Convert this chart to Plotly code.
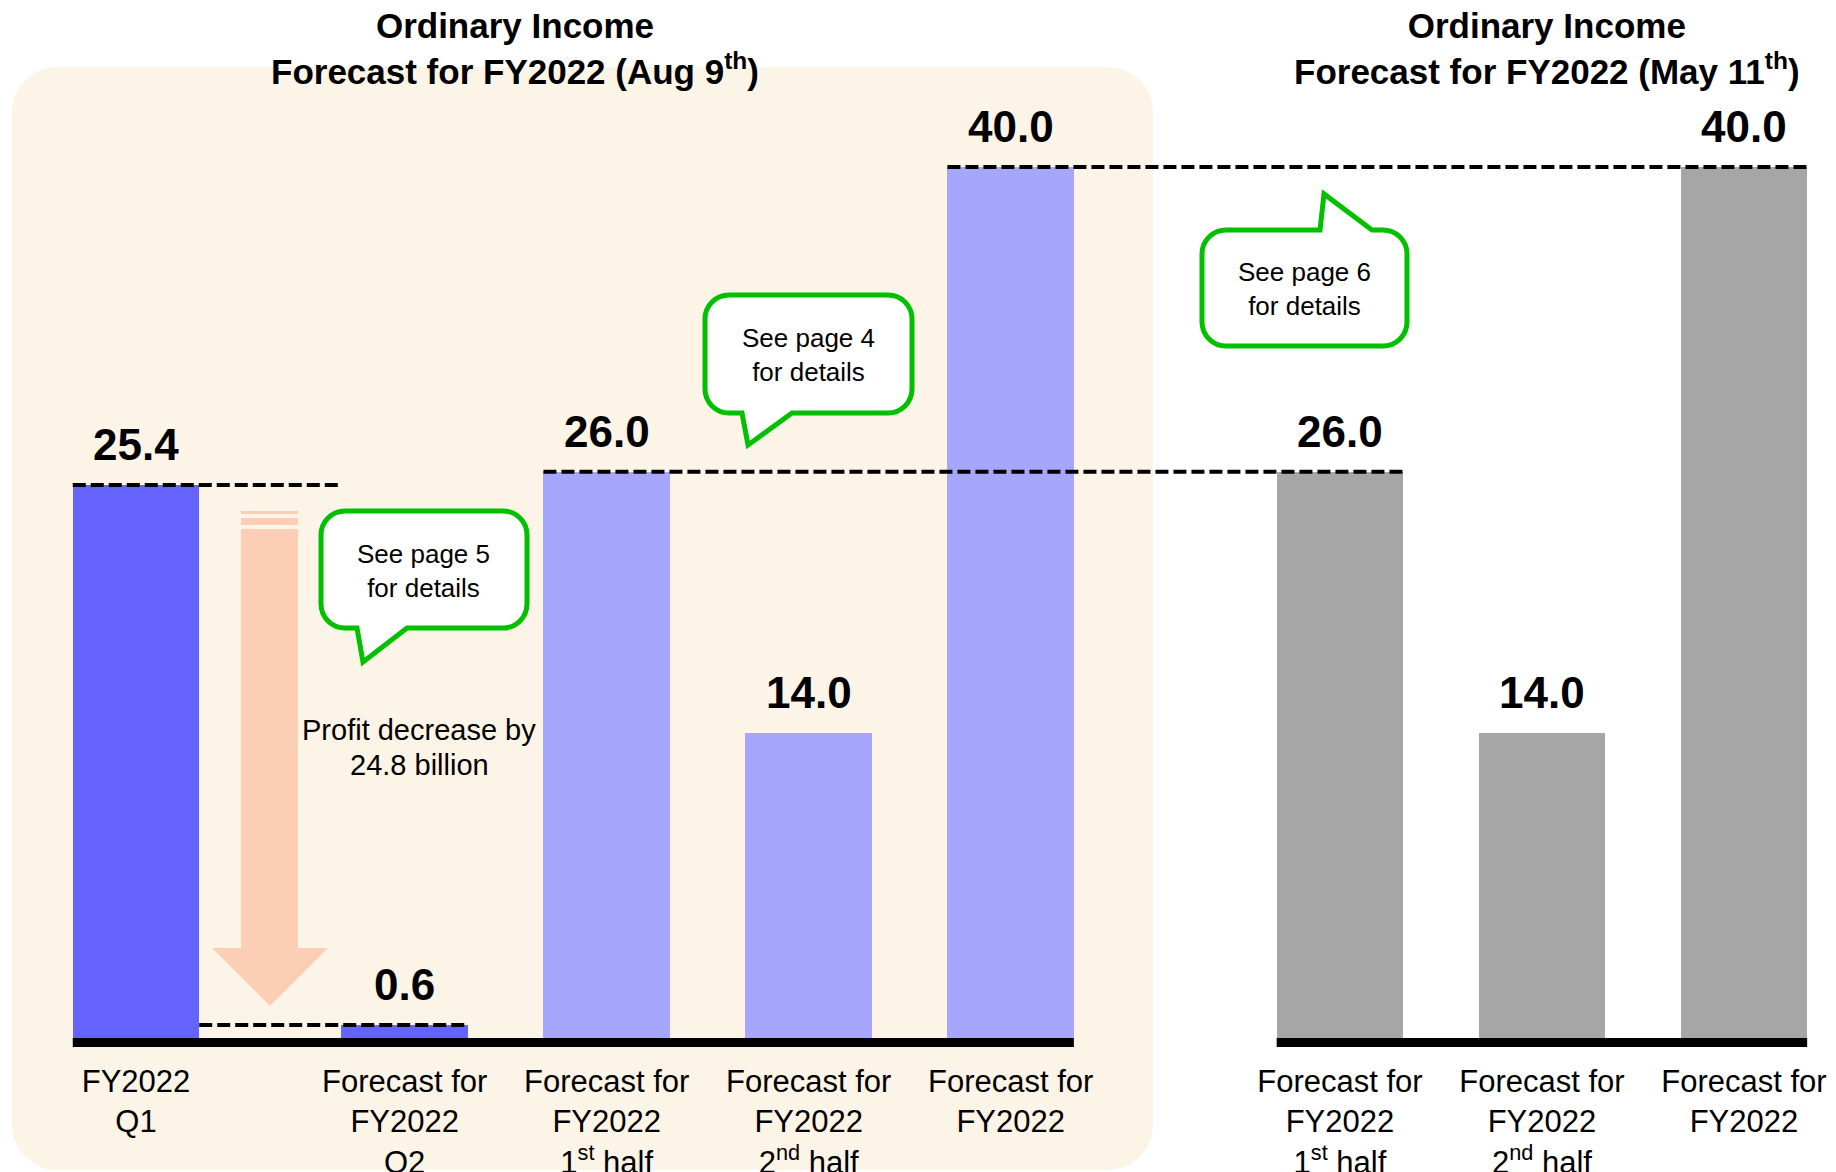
import plotly.graph_objects as go

# ---------------- data ----------------
aug_labels = [
    "FY2022<br>Q1",
    "Forecast for<br>FY2022<br>Q2",
    "Forecast for<br>FY2022<br>1<sup>st</sup> half",
    "Forecast for<br>FY2022<br>2<sup>nd</sup> half",
    "Forecast for<br>FY2022",
]
aug_values = [25.4, 0.6, 26.0, 14.0, 40.0]

may_labels = [
    "Forecast for<br>FY2022<br>1<sup>st</sup> half",
    "Forecast for<br>FY2022<br>2<sup>nd</sup> half",
    "Forecast for<br>FY2022",
]
may_values = [26.0, 14.0, 40.0]

title_aug = "Ordinary Income<br>Forecast for FY2022 (Aug 9<sup>th</sup>)"
title_may = "Ordinary Income<br>Forecast for FY2022 (May 11<sup>th</sup>)"
decrease_text = ["Profit decrease by", "24.8 billion"]
callout_texts = ["See page 4<br>for details", "See page 5<br>for details", "See page 6<br>for details"]

# ---------------- layout constants ----------------
W, H = 1836, 1172
PLOT_BOTTOM = 1047          # px, bottom of the plot area
ZERO_PX = 1038              # px, where value 0 sits
PXU = (1038 - 167) / 40.0   # px per unit
SLOT = 202.0                # px per slot
X0PX = 136.0                # px of slot 0

aug_pos = [0, 1.33, 2.33, 3.33, 4.33]
may_pos = [5.96, 6.96, 7.96]
BAR_W = 0.626

FONT = "Liberation Sans, Arial, sans-serif"
C_DARK = "#6464FC"
C_LIGHT = "#A6A6FD"
C_GRAY = "#A6A6A6"
C_PANEL = "#FDF4E8"
C_ARROW = "#FCCEB6"
C_GREEN = "#00C000"

aug_colors = [C_DARK, C_DARK, C_LIGHT, C_LIGHT, C_LIGHT]
may_colors = [C_GRAY] * 3

ymin = -(PLOT_BOTTOM - ZERO_PX) / PXU
ymax = ymin + PLOT_BOTTOM / PXU
xmin = -X0PX / SLOT
xmax = (W - X0PX) / SLOT


def PX(x):
    return x / W


def PY(y):
    return (PLOT_BOTTOM - y) / PLOT_BOTTOM


fig = go.Figure()
fig.add_trace(go.Bar(x=aug_pos, y=aug_values, width=BAR_W,
                     marker=dict(color=aug_colors, line=dict(width=0)),
                     hoverinfo="skip", showlegend=False))
fig.add_trace(go.Bar(x=may_pos, y=may_values, width=BAR_W,
                     marker=dict(color=may_colors, line=dict(width=0)),
                     hoverinfo="skip", showlegend=False))

shapes = []


def rr_path(x0, y0, x1, y1, r, tail=None):
    """rounded rectangle in px, converted to paper; tail=(side, a, b, tipx, tipy)"""
    k = 0.5523 * r

    def P(x, y):
        return f"{PX(x):.5f},{PY(y):.5f}"
    s = f"M{P(x0 + r, y0)}"
    if tail and tail[0] == "top":
        _, a, b, tx, ty = tail
        s += f" L{P(a, y0)} L{P(tx, ty)} L{P(b, y0)}"
    s += f" L{P(x1 - r, y0)} C{P(x1 - r + k, y0)} {P(x1, y0 + r - k)} {P(x1, y0 + r)}"
    s += f" L{P(x1, y1 - r)} C{P(x1, y1 - r + k)} {P(x1 - r + k, y1)} {P(x1 - r, y1)}"
    if tail and tail[0] == "bottom":
        _, a, b, tx, ty = tail
        s += f" L{P(b, y1)} L{P(tx, ty)} L{P(a, y1)}"
    s += f" L{P(x0 + r, y1)} C{P(x0 + r - k, y1)} {P(x0, y1 - r + k)} {P(x0, y1 - r)}"
    s += f" L{P(x0, y0 + r)} C{P(x0, y0 + r - k)} {P(x0 + r - k, y0)} {P(x0 + r, y0)} Z"
    return s


# background panel
shapes.append(dict(type="path", xref="paper", yref="paper", layer="below",
                   path=rr_path(12, 67, 1153, 1170, 45),
                   fillcolor=C_PANEL, line=dict(width=0)))

# arrow
arrow_pts = [(241, 529), (298, 529), (298, 948), (328, 948), (270, 1006), (212, 948), (241, 948)]
shapes.append(dict(type="path", xref="paper", yref="paper", layer="below",
                   path="M" + " L".join(f"{PX(a):.5f},{PY(b):.5f}" for a, b in arrow_pts) + " Z",
                   fillcolor=C_ARROW, line=dict(width=0)))
for (ya, yb) in [(511, 514), (518, 525)]:
    shapes.append(dict(type="rect", xref="paper", yref="paper", layer="below",
                       x0=PX(241), x1=PX(298), y0=PY(ya), y1=PY(yb),
                       fillcolor=C_ARROW, line=dict(width=0)))

# baselines
base_th = (PLOT_BOTTOM - ZERO_PX) / PXU
for (xa, xb) in [(aug_pos[0], aug_pos[-1]), (may_pos[0], may_pos[-1])]:
    shapes.append(dict(type="rect", xref="x", yref="y",
                       x0=xa - BAR_W / 2, x1=xb + BAR_W / 2, y0=-base_th, y1=0,
                       fillcolor="black", line=dict(width=0)))

# dashed reference lines
dash = dict(color="black", width=4, dash="13px,5px")
shapes.append(dict(type="line", xref="x", yref="y",
                   x0=aug_pos[0] - BAR_W / 2, x1=aug_pos[1] - BAR_W / 2,
                   y0=aug_values[0], y1=aug_values[0], line=dash))
shapes.append(dict(type="line", xref="x", yref="y",
                   x0=aug_pos[0] + BAR_W / 2, x1=aug_pos[1] + BAR_W / 2,
                   y0=aug_values[1], y1=aug_values[1], line=dash))
shapes.append(dict(type="line", xref="x", yref="y",
                   x0=aug_pos[2] - BAR_W / 2, x1=may_pos[0] + BAR_W / 2,
                   y0=aug_values[2], y1=aug_values[2], line=dash))
shapes.append(dict(type="line", xref="x", yref="y",
                   x0=aug_pos[4] - BAR_W / 2, x1=may_pos[2] + BAR_W / 2,
                   y0=aug_values[4], y1=aug_values[4], line=dash))

# callouts
callouts = [
    ((705, 295, 912, 413), ("bottom", 742, 792, 748, 445), (808, 355)),
    ((321, 511, 527, 628), ("bottom", 357, 407, 363, 662), (423, 571)),
    ((1202, 230, 1407, 346), ("top", 1320, 1372, 1324, 194), (1304, 289)),
]
for (box, tail, _), _t in zip(callouts, callout_texts):
    shapes.append(dict(type="path", xref="paper", yref="paper", layer="above",
                       path=rr_path(*box, 24, tail),
                       fillcolor="white", line=dict(color=C_GREEN, width=5)))

annotations = []
# value labels
for xs, vs in [(aug_pos, aug_values), (may_pos, may_values)]:
    for x, v in zip(xs, vs):
        annotations.append(dict(x=x, y=v, xref="x", yref="y", text=f"{v:.1f}",
                                showarrow=False, yanchor="bottom", yshift=14,
                                font=dict(family=FONT, size=44, color="black", weight="bold")))
# callout texts
for (_, _, (cx, cy)), t in zip(callouts, callout_texts):
    annotations.append(dict(x=PX(cx), y=PY(cy), xref="paper", yref="paper", text=t,
                            showarrow=False, xanchor="center", yanchor="middle",
                            font=dict(family=FONT, size=26, color="black")))
# decrease text
for t, yy in zip(decrease_text, [730, 765]):
    annotations.append(dict(x=PX(419), y=PY(yy), xref="paper", yref="paper", text=t,
                            showarrow=False, xanchor="center", yanchor="middle",
                            font=dict(family=FONT, size=29, color="black")))
# titles
for t, cx in [(title_aug, 515), (title_may, 1547)]:
    annotations.append(dict(x=PX(cx), y=PY(48), xref="paper", yref="paper", text=t,
                            showarrow=False, xanchor="center", yanchor="middle",
                            font=dict(family=FONT, size=35, color="black", weight="bold")))

fig.update_layout(
    width=W, height=H,
    margin=dict(l=0, r=0, t=0, b=H - PLOT_BOTTOM, pad=0),
    paper_bgcolor="white", plot_bgcolor="rgba(0,0,0,0)",
    bargap=0, showlegend=False,
    shapes=shapes, annotations=annotations,
    xaxis=dict(range=[xmin, xmax], tickmode="array",
               tickvals=aug_pos + may_pos, ticktext=aug_labels + may_labels,
               showgrid=False, zeroline=False, showline=False, ticks="",
               ticklabelstandoff=13,
               tickfont=dict(family=FONT, size=31, color="black"),
               automargin=False, fixedrange=True),
    yaxis=dict(range=[ymin, ymax], visible=False, showgrid=False, zeroline=False,
               automargin=False, fixedrange=True),
)

fig.write_html("out.html")
